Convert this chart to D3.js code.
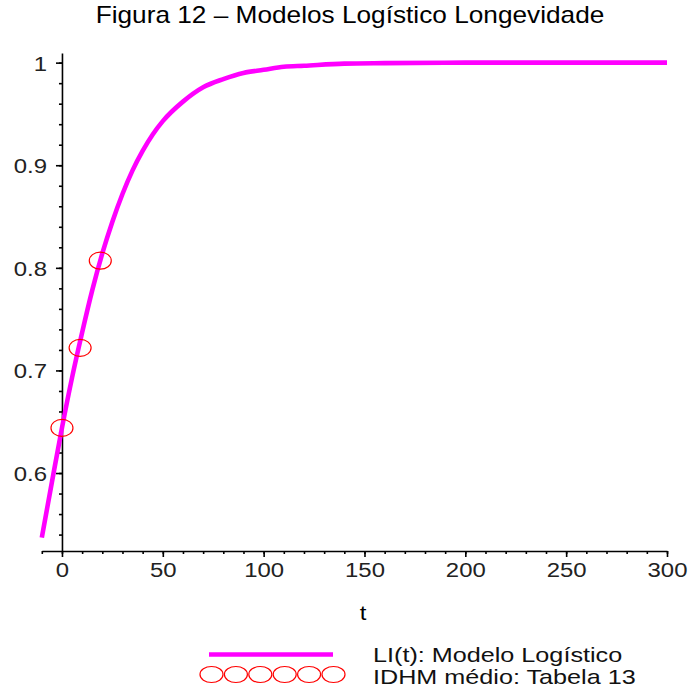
<!DOCTYPE html>
<html>
<head>
<meta charset="utf-8">
<script src="https://cdn.jsdelivr.net/npm/d3@7"></script>
<style>
  html, body { margin: 0; padding: 0; background: #fff; }
  svg { display: block; font-family: "Liberation Sans", Arial, sans-serif; }
</style>
</head>
<body>
<svg id="chart" width="690" height="690"></svg>
<script>
// Logistic model LI(t) for longevity, sampled along t
const modelT = [-10, -5, 0, 5, 10, 15, 20, 25, 30, 35, 40, 45, 50, 60, 70, 80, 90, 100, 110, 120, 140, 160, 200, 250, 300];
const modelLI = [0.537, 0.591, 0.644, 0.693, 0.737, 0.778, 0.814, 0.845, 0.872, 0.895, 0.914, 0.930, 0.943, 0.962, 0.976, 0.984, 0.990, 0.993, 0.996, 0.997, 0.999, 0.9995, 1.0, 1.0, 1.0];

// Observed average IDHM (longevity) values
const obsT = [0, 9, 19];
const obsIDHM = [0.644, 0.722, 0.807];

// Axis ticks
const xMajorTicks = [0, 50, 100, 150, 200, 250, 300];
const yMajorTicks = [0.6, 0.7, 0.8, 0.9, 1];
const yTickLabels = ["0.6", "0.7", "0.8", "0.9", "1"];

const titleText = "Figura 12 – Modelos Logístico Longevidade";
const xLabel = "t";
const legendLabels = ["LI(t): Modelo Logístico", "IDHM médio: Tabela 13"];

const svg = d3.select("#chart");
const SX = 1.14; // horizontal text stretch

const x = d3.scaleLinear().domain([-10, 300]).range([41.8, 667]);
const y = d3.scaleLinear().domain([0.524, 1.0094]).range([551, 53]);

// Title
svg.append("text")
  .attr("transform", `translate(350,23) scale(${SX},1)`)
  .attr("text-anchor", "middle")
  .attr("font-size", 23)
  .attr("fill", "#000")
  .text(titleText);

// Minor ticks
const xMinor = d3.range(-10, 301, 10);
const yMinor = d3.range(0.54, 1.001, 0.02).map(v => +v.toFixed(2));

const axisStyle = g => {
  g.selectAll("path, line").attr("stroke", "#000").attr("stroke-width", 1.6);
};

svg.append("g")
  .attr("transform", `translate(0,${y(0.524)})`)
  .call(d3.axisBottom(x).tickValues(xMinor).tickSize(3).tickSizeOuter(0).tickFormat(""))
  .call(axisStyle);

const gx = svg.append("g")
  .attr("transform", `translate(0,${y(0.524)})`)
  .call(d3.axisBottom(x).tickValues(xMajorTicks).tickSize(6).tickSizeOuter(0))
  .call(axisStyle);
gx.select(".domain").remove();
gx.selectAll("text")
  .attr("y", 0).attr("dy", 0)
  .attr("transform", `translate(0,26) scale(${SX},1)`)
  .attr("font-size", 21)
  .attr("font-family", "'Liberation Sans', Arial, sans-serif")
  .attr("fill", "#222");

svg.append("g")
  .attr("transform", `translate(${x(0)},0)`)
  .call(d3.axisLeft(y).tickValues(yMinor).tickSize(3).tickSizeOuter(0).tickFormat(""))
  .call(axisStyle);

const gy = svg.append("g")
  .attr("transform", `translate(${x(0)},0)`)
  .call(d3.axisLeft(y).tickValues(yMajorTicks).tickSize(6).tickSizeOuter(0)
    .tickFormat((d, i) => yTickLabels[i]))
  .call(axisStyle);
gy.select(".domain").remove();
gy.selectAll("text")
  .attr("x", 0).attr("dy", "0.36em")
  .attr("transform", `translate(-15,0) scale(${SX},1)`)
  .attr("font-size", 21)
  .attr("font-family", "'Liberation Sans', Arial, sans-serif")
  .attr("fill", "#222");

// Model curve
const modelData = modelT.map((t, i) => ({ t, v: modelLI[i] }));
const line = d3.line().x(d => x(d.t)).y(d => y(d.v)).curve(d3.curveMonotoneX);
svg.append("path")
  .datum(modelData)
  .attr("d", line)
  .attr("fill", "none")
  .attr("stroke", "#ff00ff")
  .attr("stroke-width", 4.6);

// Observed points
const obsData = obsT.map((t, i) => ({ t, v: obsIDHM[i] }));
svg.selectAll("ellipse.obs")
  .data(obsData)
  .enter().append("ellipse")
  .attr("class", "obs")
  .attr("cx", d => x(d.t))
  .attr("cy", d => y(d.v))
  .attr("rx", 11)
  .attr("ry", 8.5)
  .attr("fill", "none")
  .attr("stroke", "#ff0000")
  .attr("stroke-width", 1.2);

// Axis label
svg.append("text")
  .attr("transform", `translate(363,620) scale(${SX},1)`)
  .attr("text-anchor", "middle")
  .attr("font-size", 21)
  .attr("fill", "#000")
  .text(xLabel);

// Legend
svg.append("line")
  .attr("x1", 209).attr("x2", 333)
  .attr("y1", 654.5).attr("y2", 654.5)
  .attr("stroke", "#ff00ff").attr("stroke-width", 4.6);

svg.selectAll("ellipse.leg")
  .data(d3.range(6))
  .enter().append("ellipse")
  .attr("class", "leg")
  .attr("cx", i => 211.5 + i * 24.4)
  .attr("cy", 674.5)
  .attr("rx", 11.5)
  .attr("ry", 8)
  .attr("fill", "none")
  .attr("stroke", "#ff0000")
  .attr("stroke-width", 1.2);

legendLabels.forEach((lbl, i) => {
  svg.append("text")
    .attr("transform", `translate(373,${662 + i * 22}) scale(1.26,1)`)
    .attr("font-size", 20)
    .attr("fill", "#111")
    .text(lbl);
});
</script>
</body>
</html>
